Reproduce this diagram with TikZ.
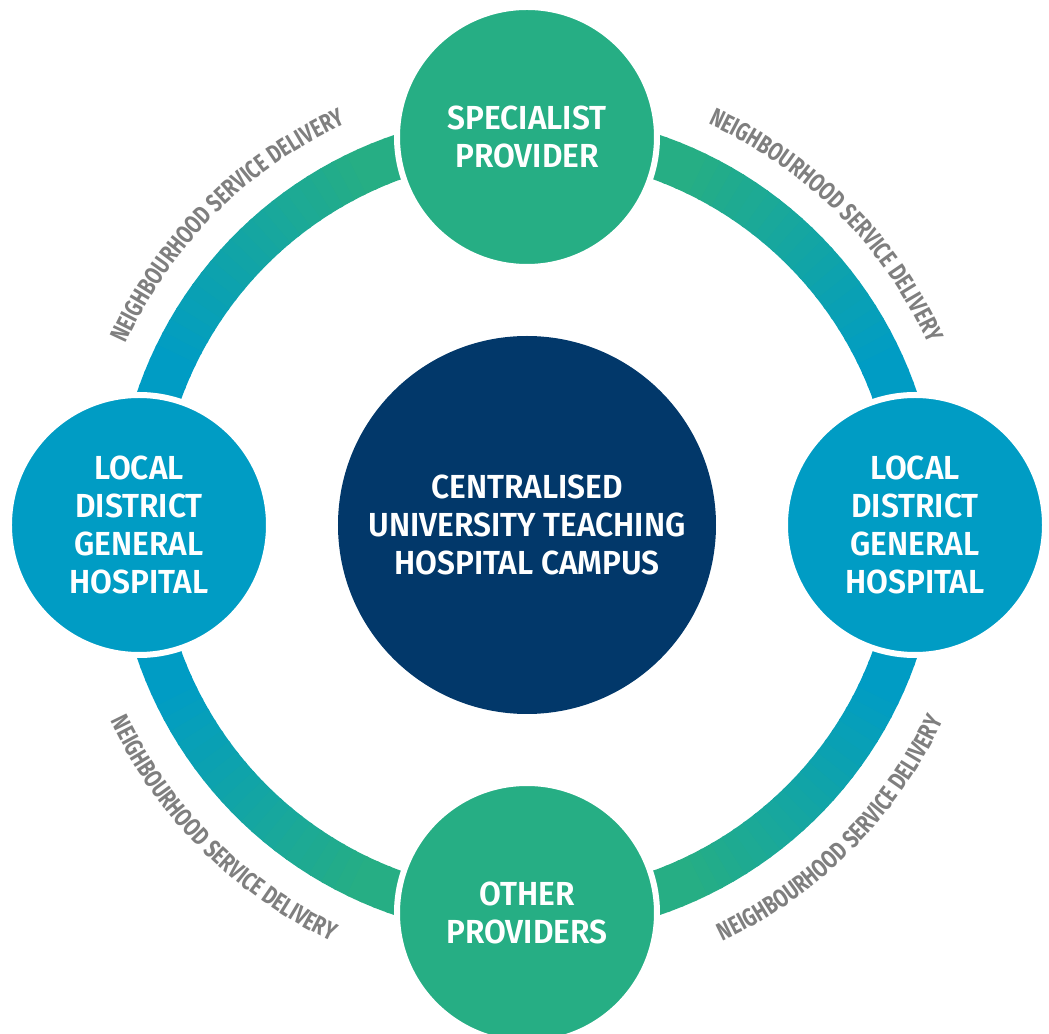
\documentclass[tikz,border=0pt]{standalone}
\usepackage{fontspec}
\setmainfont{Fira Sans}[FakeStretch=0.95, BoldFont={Fira Sans SemiBold}]
\newfontfamily\nsdfont{Fira Sans}[FakeStretch=0.76]
\usetikzlibrary{decorations.text}
\definecolor{provgreen}{HTML}{26AE84}
\definecolor{dghblue}{HTML}{009CC4}
\definecolor{campusnavy}{HTML}{02386A}
\definecolor{labelgrey}{HTML}{7F7F7F}
\tikzset{
  ringseg/.style = {line width=33pt},
  hub/.style = {circle, fill=campusnavy, text=white, align=center,
    minimum size=283.5pt, inner sep=0pt,
    font=\bfseries\fontsize{25}{28.5}\selectfont},
  site/.style = {circle, draw=white, line width=4.5pt, text=white, align=center,
    minimum size=195pt, inner sep=0pt,
    font=\bfseries\fontsize{25}{28.5}\selectfont},
  nsd/.style = {decorate, decoration={text along path, text align=center,
    text color=labelgrey,
    text={|\nsdfont\bfseries\fontsize{19}{19}\selectfont|NEIGHBOURHOOD SERVICE DELIVERY}}}
}
\begin{document}
\begin{tikzpicture}[x=0.75pt, y=0.75pt]
  \useasboundingbox (-527,-509) rectangle (522,525);
  \coordinate (c) at (0,0);
  % ring, green at top and bottom, blue at the sides
  \foreach \a in {0,2,...,358} {
    \pgfmathsetmacro\mix{min(100,max(0,(asin(abs(sin(\a+1)))-25)*2.5))}
    \draw[ringseg, provgreen!\mix!dghblue] (c) ++(\a:390)
      arc[start angle=\a, end angle=\a+2.4, radius=390];
  }
  % labels round the ring
  \path[nsd] (c) ++(165:440) arc[start angle=165, end angle=105, radius=440];
  \path[nsd] (c) ++(75:440) arc[start angle=75, end angle=15, radius=440];
  \path[nsd] (c) ++(195:460) arc[start angle=195, end angle=255, radius=460];
  \path[nsd] (c) ++(285:460) arc[start angle=285, end angle=345, radius=460];
  % circles
  \node[hub] (campus) at (c) {CENTRALISED\\UNIVERSITY TEACHING\\HOSPITAL CAMPUS};
  \node[site, fill=provgreen] (specialist) at (90:388) {SPECIALIST\\PROVIDER};
  \node[site, fill=provgreen] (others) at (270:388) {OTHER\\PROVIDERS};
  \node[site, fill=dghblue] (westdgh) at (180:388) {LOCAL\\DISTRICT\\GENERAL\\HOSPITAL};
  \node[site, fill=dghblue] (eastdgh) at (0:388) {LOCAL\\DISTRICT\\GENERAL\\HOSPITAL};
\end{tikzpicture}
\end{document}
